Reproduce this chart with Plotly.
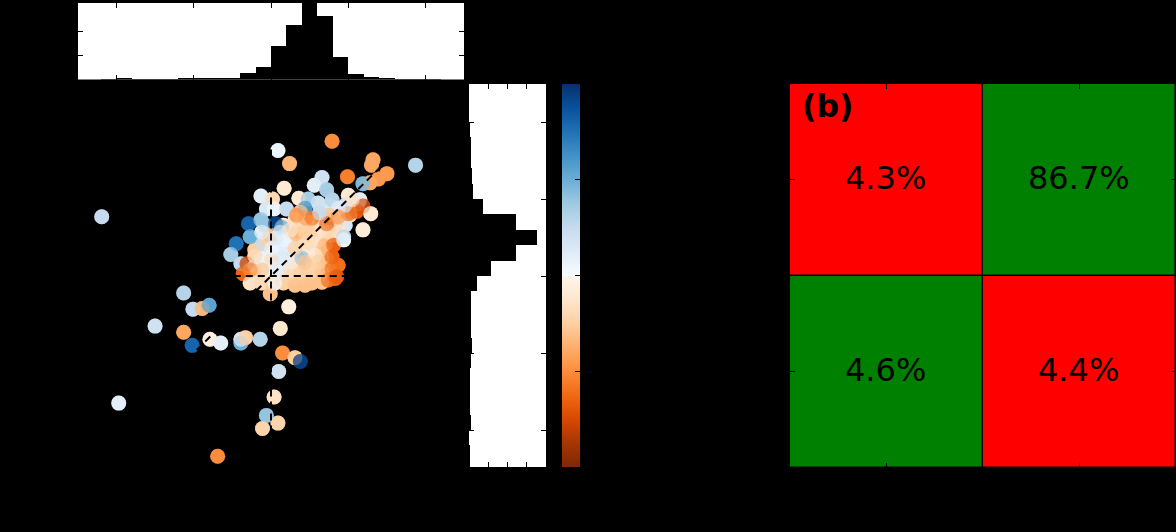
import plotly.graph_objects as go

# Scatter: x, y, colour value
fill_x = [-0.21,-0.08,0.05,0.21,0.34,0.47,0.61,0.74,0.72,0.57,0.38,0.25,0.09,-0.01,-0.10,0.16,0.31,0.48,0.63,0.79,0.89,1.02,1.13,0.96,0.76,0.22,0.35,0.50,0.66,0.12,0.28,0.53,-0.01,-0.14]
fill_y = [0.34,0.18,0.01,-0.01,-0.03,0.01,-0.03,0.10,0.23,0.40,0.40,0.31,0.18,0.31,0.40,0.66,0.73,0.70,0.57,0.53,0.70,0.79,0.94,0.66,0.92,0.47,0.18,0.34,0.34,0.10,0.05,0.10,0.01,-0.05]
fill_c = [-0.25,-0.1,-0.2,-0.25,-0.25,-0.25,-0.3,-0.4,-0.45,-0.15,-0.15,0.1,0.05,0.1,-0.2,-0.1,-0.15,-0.15,-0.15,-0.25,-0.15,-0.2,-0.2,0.15,0.15,0.1,-0.15,-0.1,-0.3,-0.1,-0.15,-0.2,-0.1,-0.1]
pts_x = [0.79,0.09,0.24,1.32,1.30,1.87,0.99,1.50,1.39,1.28,1.19,0.66,0.56,0.72,0.17,-0.13,0.02,0.36,0.48,0.61,0.79,1.0,1.15,1.19,1.11,1.0,1.29,1.19,-0.06,0.04,0.20,-0.29,-0.13,-0.08,0.06,0.14,0.44,-0.27,-0.45,-0.11,-0.52,-0.39,-0.31,-0.21,-0.36,-0.27,-0.01,0.23,
         -0.12,0.01,0.16,0.31,0.44,0.53,-0.17,-0.04,0.09,0.25,0.38,0.53,0.66,-0.12,0.01,0.14,0.27,0.40,0.53,0.66,0.12,-0.04,0.18,0.32,0.48,0.61,0.70,-0.01,0.12,0.25,0.38,0.53,0.66,0.83,0.01,0.57,0.38,0.96,0.87,1.05,0.76,0.61,0.44,0.31,0.44,0.66,0.18,0.05,-0.21,-0.12,0.06,0.45,0.89,0.74,0.61,-0.12,-0.27,0.05,
         0.79,0.87,0.83,0.74,0.85,0.79,0.81,0.72,0.53,0.33,0.94,0.94,0.87,0.63,
         -1.13,-1.01,-0.89,-0.80,-1.50,-1.13,-1.02,-0.79,-0.65,-0.39,-0.39,-0.33,-0.14,0.12,0.15,0.31,0.38,0.10,0.04,-1.97,-0.06,-0.11,0.09,-0.69,-2.19]
pts_y = [1.75,1.63,1.46,1.51,1.44,1.44,1.29,1.33,1.26,1.21,1.20,1.28,1.18,1.12,1.14,1.04,1.0,1.01,1.0,0.95,0.99,1.05,0.99,0.91,0.84,0.81,0.81,0.60,0.87,0.87,0.87,0.68,0.73,0.66,0.68,0.63,0.88,0.51,0.42,0.42,0.28,0.16,0.16,0.13,0.03,-0.09,-0.23,-0.40,
         -0.09,-0.09,-0.09,-0.12,-0.12,-0.09,0.05,0.08,0.05,0.08,0.05,0.05,0.05,0.23,0.21,0.23,0.18,0.23,0.18,0.23,0.34,0.47,0.47,0.55,0.44,0.47,0.40,0.53,0.57,0.60,0.66,0.60,0.62,0.66,0.36,0.27,0.83,0.92,0.88,0.99,0.79,0.70,0.57,0.36,0.18,-0.08,0.18,0.10,0.26,0.57,0.49,0.75,0.57,0.57,0.18,0.08,0.08,-0.09,
         0.09,0.14,-0.03,-0.05,-0.01,0.25,0.40,0.68,0.75,0.79,0.51,0.47,0.77,0.82,
         -0.22,-0.43,-0.42,-0.38,-0.65,-0.73,-0.90,-0.82,-0.87,-0.87,-0.82,-0.80,-0.82,-0.68,-1.00,-1.06,-1.11,-1.24,-1.57,-1.65,-1.81,-1.98,-1.91,-2.34,0.77]
pts_c = [-0.5,0.05,-0.35,-0.4,-0.4,0.3,-0.55,-0.45,-0.45,-0.4,0.45,0.2,0.1,0.35,-0.1,0.1,-0.2,-0.1,0.35,0.2,0.3,-0.1,0.1,-0.8,-0.7,-0.65,-0.1,-0.08,0.15,0.05,0.25,0.8,0.4,0.4,0.95,0.5,0.6,0.5,0.75,0.25,0.35,0.25,-0.8,0.15,-0.65,-0.15,-0.3,-0.05,
         -0.2,-0.25,-0.25,-0.3,-0.3,-0.3,-0.2,0.05,0.1,-0.2,-0.25,-0.25,-0.3,0.05,-0.2,0.2,-0.1,0.4,-0.2,-0.3,0.1,-0.25,0.05,-0.35,-0.2,-0.15,-0.35,-0.3,0.05,-0.15,-0.2,-0.25,-0.1,-0.3,0.05,-0.1,-0.3,0.2,0.1,-0.15,-0.3,-0.2,-0.25,-0.25,-0.3,-0.3,0.1,0.1,-0.2,0.1,0.15,-0.45,-0.1,-0.2,-0.25,-0.3,-0.5,0.05,
         -0.6,-0.6,-0.6,-0.6,-0.7,-0.65,-0.65,-0.65,-0.6,-0.5,0.3,0.05,-0.45,0.25,
         0.3,0.25,-0.35,0.55,0.2,-0.4,0.8,-0.05,0.1,0.5,0.15,-0.25,0.3,-0.12,-0.5,-0.25,0.95,0.2,-0.15,0.1,0.4,-0.22,-0.22,-0.5,0.25]

# Histograms (bin centres and counts)
top_centers = [-2.5,-2.3,-2.1,-1.9,-1.7,-1.5,-1.3,-1.1,-0.9,-0.7,-0.5,-0.3,-0.1,0.1,0.3,0.5,0.7,0.9,1.1,1.3,1.5,1.7,1.9,2.1,2.3,2.5]
top_counts = [0,0,1,2,1,1,1,4,3,3,3,14,26,70,112,190,131,47,12,6,2,1,1,1,0,0]
right_centers = [-2.5,-2.3,-2.1,-1.9,-1.7,-1.5,-1.3,-1.1,-0.9,-0.7,-0.5,-0.3,-0.1,0.1,0.3,0.5,0.7,0.9,1.1,1.3,1.5,1.7,1.9,2.1,2.3,2.5]
right_counts = [1,1,0,3,2,1,2,3,7,4,3,5,21,58,123,179,124,38,11,7,5,3,1,0,0,0]

# Panel (b)
cell_x = [0,1,0,1]
cell_y = [1,1,0,0]
cell_state = [[1,0],[0,1]]
cell_text = ["4.3%","86.7%","4.6%","4.4%"]

oranges = ["#7f2704","#a63603","#d94801","#f16913","#fd8d3c","#fdae6b","#fdd0a2","#fee6ce","#fff5eb"]
blues = ["#f7fbff","#deebf7","#c6dbef","#9ecae1","#6baed6","#4292c6","#2171b5","#08519c","#08306b"]
cscale = [[i/16, c] for i, c in enumerate(oranges)] + [[0.5 + i/16, c] for i, c in enumerate(blues)]

W, H = 1176, 532
def dx(a, b): return [a/W, b/W]
def dy(t, b): return [(H-b)/H, (H-t)/H]

all_x = fill_x + pts_x
all_y = fill_y + pts_y
all_c = fill_c + pts_c

fig = go.Figure()

# opaque layer, then translucent layer: single points keep full colour, overlaps blend
for op, show in ((1.0, True), (0.5, False)):
    marker = dict(size=15, color=all_c, cmin=-1, cmax=1, colorscale=cscale, opacity=op,
                  line=dict(width=0), showscale=show)
    if show:
        marker["colorbar"] = dict(x=562/W, xanchor="left", xpad=0, ypad=0, thickness=18, thicknessmode="pixels",
                                  len=383/H, lenmode="fraction", y=(H-84)/H, yanchor="top",
                                  outlinewidth=0, tickvals=[-0.5,0,0.5], ticks="inside", ticklen=5,
                                  tickcolor="black", tickwidth=1, showticklabels=False)
    fig.add_trace(go.Scatter(x=all_x, y=all_y, mode="markers", marker=marker, showlegend=False, xaxis="x", yaxis="y"))

dash = dict(color="black", width=2, dash="7px,5px")
for lx, ly in (([-2.5,2.5],[0,0]), ([0,0],[-2.5,2.5]), ([-2.5,2.5],[-2.5,2.5])):
    fig.add_trace(go.Scatter(x=lx, y=ly, mode="lines", line=dash, showlegend=False, xaxis="x", yaxis="y"))

fig.add_trace(go.Bar(x=top_centers, y=top_counts, width=0.2, marker=dict(color="black", line=dict(width=0)),
                     showlegend=False, xaxis="x2", yaxis="y2"))
fig.add_trace(go.Bar(y=right_centers, x=right_counts, width=0.2, orientation="h", marker=dict(color="black", line=dict(width=0)),
                     showlegend=False, xaxis="x3", yaxis="y3"))
fig.add_trace(go.Heatmap(x=[0,1], y=[0,1], z=cell_state,
                         colorscale=[[0,"#ff0000"],[1,"#008000"]], zmin=0, zmax=1, showscale=False,
                         xgap=1.5, ygap=1.5, xaxis="x4", yaxis="y4"))

ax = dict(showline=True, linecolor="black", linewidth=1, mirror="ticks", ticks="inside", ticklen=5,
          tickcolor="black", tickwidth=1, showticklabels=False, showgrid=False, zeroline=False)
ticks5 = [-2,-1,0,1,2]
notes = [dict(text="<b>(b)</b>", xref="paper", yref="paper", x=799.5/W, y=(H-106)/H,
              xanchor="left", yanchor="middle", showarrow=False,
              font=dict(size=31.5, color="black", family="DejaVu Sans"))]
for cx, cy, ct in zip(cell_x, cell_y, cell_text):
    notes.append(dict(text=ct, xref="x4", yref="y4", x=cx, y=cy, xanchor="center", yanchor="middle",
                      xshift=-0.5, yshift=1.5, showarrow=False,
                      font=dict(size=32, color="black", family="DejaVu Sans")))

fig.update_layout(
    width=W, height=H, autosize=False, margin=dict(l=0,r=0,t=0,b=0),
    paper_bgcolor="black", plot_bgcolor="black", bargap=0,
    xaxis=dict(ax, domain=dx(78,464), range=[-2.497,2.497], tickvals=ticks5, anchor="y"),
    yaxis=dict(ax, domain=dy(84,467), range=[-2.48,2.494], tickvals=ticks5, anchor="x"),
    xaxis2=dict(ax, domain=dx(78,464), range=[-2.497,2.497], tickvals=ticks5, anchor="y2"),
    yaxis2=dict(ax, domain=dy(3,79.5), range=[0,158], tickvals=[50,100], anchor="x2"),
    xaxis3=dict(ax, domain=dx(469,546), range=[0,202], tickvals=[50,100,150], anchor="y3"),
    yaxis3=dict(ax, domain=dy(84,467), range=[-2.48,2.494], tickvals=ticks5, anchor="x3"),
    xaxis4=dict(ax, domain=dx(790,1175.5), range=[-0.5,1.5], tickvals=[0,1], anchor="y4"),
    yaxis4=dict(ax, domain=dy(84,467.5), range=[-0.5,1.5], tickvals=[0,1], anchor="x4"),
    shapes=[
        dict(type="rect", xref="x2 domain", yref="y2 domain", x0=0, x1=1, y0=0, y1=1,
             fillcolor="white", line=dict(width=0), layer="below"),
        dict(type="rect", xref="x3 domain", yref="y3 domain", x0=0, x1=1, y0=0, y1=1,
             fillcolor="white", line=dict(width=0), layer="below"),
    ],
    annotations=notes,
)

fig.write_html("out.html", config=dict(displayModeBar=False),
               post_script="document.body.style.margin='0';document.body.style.background='black';document.body.style.overflow='hidden';")
